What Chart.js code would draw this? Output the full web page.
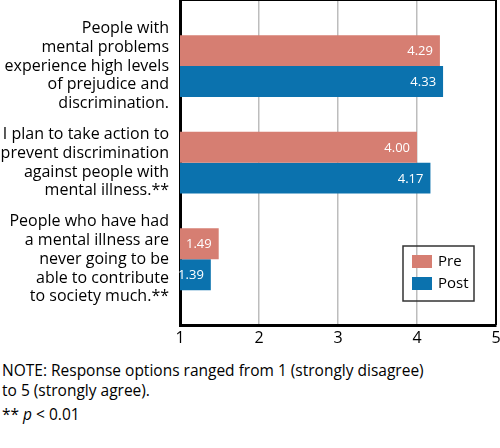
<!DOCTYPE html>
<html>
<head>
<meta charset="utf-8">
<script src="https://cdn.jsdelivr.net/npm/chart.js@4.4.1/dist/chart.umd.min.js"></script>
<style>
  html, body { margin: 0; padding: 0; background: #fff; }
  #wrap { position: relative; width: 500px; height: 448px; overflow: hidden; }
  #chartBox { position: absolute; left: 0; top: 0; width: 500px; height: 350px; }
  #note { position: absolute; left: 2px; top: 360px; font-family: "Open Sans", sans-serif; font-size: 15.5px; color: #000; line-height: 20px; }
  #note p { margin: 0; }
  #note p.sig { margin-top: 4px; }
</style>
</head>
<body>
<div id="wrap">
  <div id="chartBox"><canvas id="chart" width="500" height="350"></canvas></div>
  <div id="note">
    <p>NOTE: Response options ranged from 1 (strongly disagree)<br>to 5 (strongly agree).</p>
    <p class="sig">** <i>p</i> &lt; 0.01</p>
  </div>
</div>
<script>
// --- DATA ---
const categories = [
    ["People with", "mental problems", "experience high levels", "of prejudice and", "discrimination."],
    ["I plan to take action to", "prevent discrimination", "against people with", "mental illness.**"],
    ["People who have had", "a mental illness are", "never going to be", "able to contribute", "to society much.**"]
];
const seriesNames = ["Pre", "Post"];
const preValues = [4.29, 4.00, 1.49];
const postValues = [4.33, 4.17, 1.39];
const xTicks = [1, 2, 3, 4, 5];

const colors = ["#d67e72", "#0b72ae"];
const FONT = '"Open Sans", sans-serif';

// value labels inside bar ends
const valueLabels = {
    id: 'valueLabels',
    afterDatasetsDraw(chart) {
        const ctx = chart.ctx;
        ctx.save();
        ctx.font = `13px ${FONT}`;
        ctx.fillStyle = '#fff';
        ctx.textAlign = 'right';
        ctx.textBaseline = 'middle';
        chart.data.datasets.forEach((ds, di) => {
            chart.getDatasetMeta(di).data.forEach((bar, i) => {
                ctx.fillText(ds.data[i].x.toFixed(2), bar.x - 7, bar.y + 1);
            });
        });
        ctx.restore();
    }
};

// top + right frame and boxed legend
const frameAndLegend = {
    id: 'frameAndLegend',
    afterDraw(chart) {
        const ctx = chart.ctx;
        const a = chart.chartArea;
        ctx.save();
        ctx.strokeStyle = '#000';
        ctx.lineWidth = 1;
        ctx.beginPath();
        ctx.moveTo(a.left, a.top + 0.5);
        ctx.lineTo(a.right, a.top + 0.5);
        ctx.stroke();
        ctx.lineWidth = 2;
        ctx.beginPath();
        ctx.moveTo(a.right, a.top);
        ctx.lineTo(a.right, a.bottom);
        ctx.stroke();

        // legend box
        const bx = a.right - 93, by = a.bottom - 79, bw = 71, bh = 55;
        ctx.lineWidth = 1.5;
        ctx.strokeStyle = '#333';
        ctx.strokeRect(bx, by, bw, bh);
        ctx.font = `15px ${FONT}`;
        ctx.textBaseline = 'middle';
        ctx.textAlign = 'left';
        chart.data.datasets.forEach((ds, i) => {
            const sy = by + 9 + i * 22;
            ctx.fillStyle = ds.backgroundColor;
            ctx.fillRect(bx + 9, sy, 20, 13);
            ctx.fillStyle = '#000';
            ctx.fillText(ds.label, bx + 35, sy + 7);
        });
        ctx.restore();
    }
};

new Chart(document.getElementById('chart'), {
    type: 'bar',
    data: {
        datasets: [
            { label: seriesNames[0], data: preValues.map((v, i) => ({ x: v, y: i })), backgroundColor: colors[0] },
            { label: seriesNames[1], data: postValues.map((v, i) => ({ x: v, y: i })), backgroundColor: colors[1] }
        ]
    },
    options: {
        indexAxis: 'y',
        responsive: false,
        animation: false,
        categoryPercentage: 0.64,
        barPercentage: 1.0,
        layout: { padding: { top: 0, right: 4, left: 0, bottom: 0 } },
        scales: {
            x: {
                type: 'linear',
                min: 1,
                max: 5,
                afterBuildTicks: (scale) => { scale.ticks = xTicks.map(v => ({ value: v })); },
                grid: {
                    color: (c) => (c.tick && c.tick.value === 5) ? 'rgba(0,0,0,0)' : '#bdbdbd',
                    lineWidth: 1.5,
                    drawTicks: false
                },
                border: { color: '#000', width: 3 },
                ticks: { color: '#000', font: { family: FONT, size: 16 }, padding: 4 },
                afterFit: (scale) => {
                    scale.height = 25;
                    scale.paddingLeft = 0;
                    scale.paddingRight = 0;
                }
            },
            y: {
                type: 'linear',
                reverse: true,
                offset: false,
                min: -0.684,
                max: 2.681,
                afterBuildTicks: (scale) => { scale.ticks = categories.map((c, i) => ({ value: i })); },
                grid: { display: false, drawTicks: false },
                border: { color: '#000', width: 3 },
                ticks: {
                    color: '#000',
                    autoSkip: false,
                    font: { family: FONT, size: 16, lineHeight: 1.17 },
                    padding: 11,
                    callback: (v) => categories[v]
                },
                afterFit: (scale) => {
                    scale.width = 180;
                    scale.paddingTop = 0;
                    scale.paddingBottom = 0;
                }
            }
        },
        plugins: {
            legend: { display: false },
            tooltip: { enabled: false }
        }
    },
    plugins: [valueLabels, frameAndLegend]
});
</script>
</body>
</html>
